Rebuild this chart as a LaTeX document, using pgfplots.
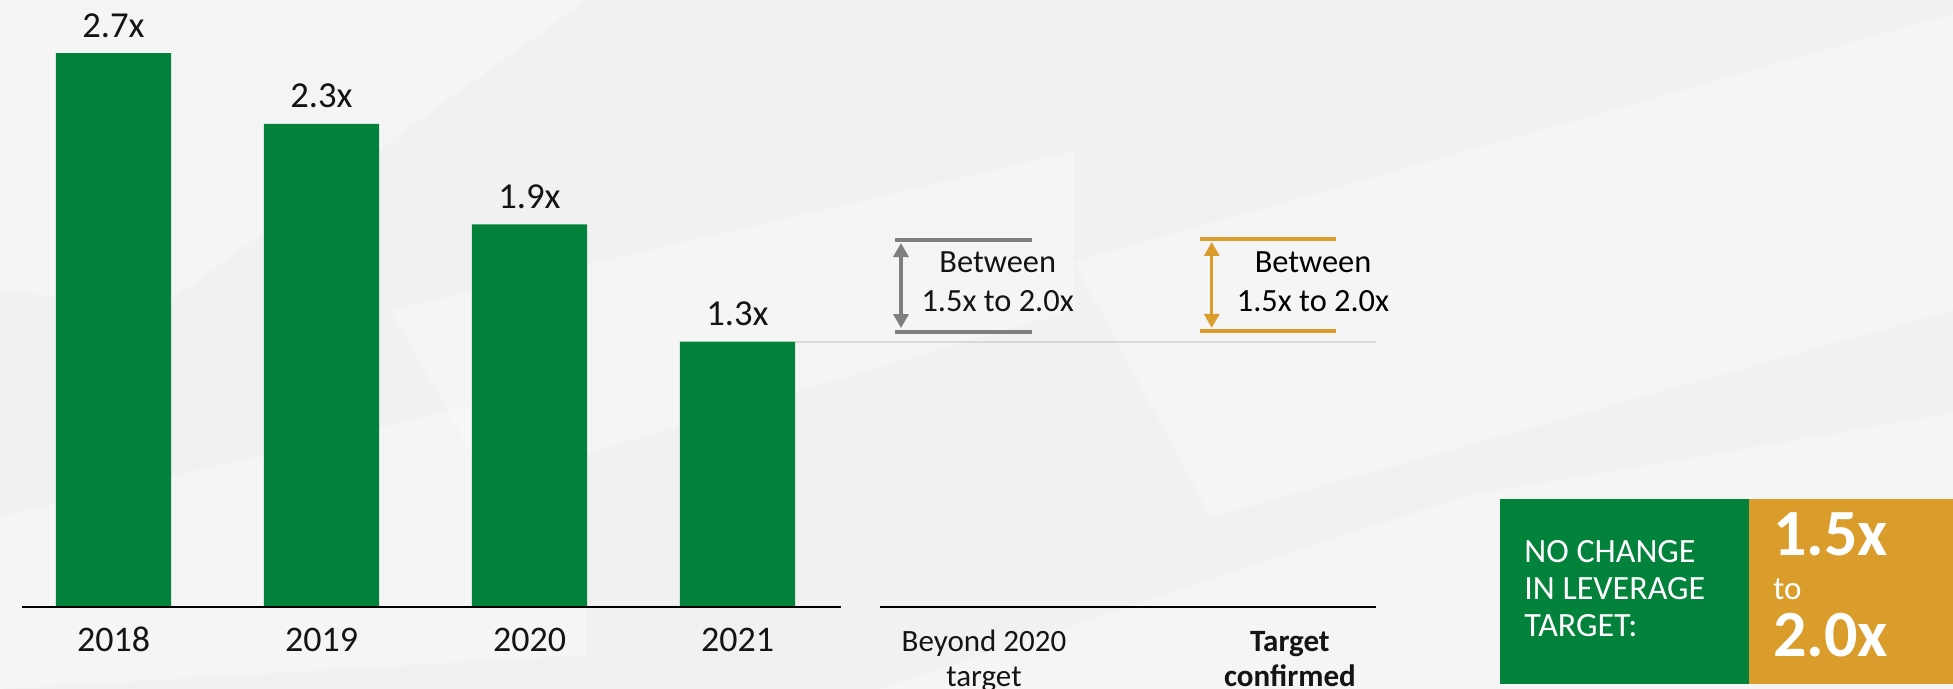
\documentclass[border=0pt]{standalone}
\usepackage{pgfplots}
\pgfplotsset{compat=1.18}
\usepackage{fontspec}
\setmainfont{Carlito}
\usetikzlibrary{arrows.meta}
\definecolor{bargreen}{RGB}{3,130,59}
\definecolor{gold}{RGB}{218,157,43}
\definecolor{bracketgrey}{RGB}{127,127,127}
\definecolor{bgc}{RGB}{241,241,241}
\definecolor{refline}{RGB}{217,217,217}
\definecolor{txt}{RGB}{20,20,20}
\newcommand{\catfont}{\fontsize{15.5bp}{17.3bp}\selectfont}
\newcommand{\twoline}[2]{\vtop{\halign{\hfil##\hfil\cr#1\cr#2\cr}}}
\begin{document}
\begin{tikzpicture}
\begin{axis}[name=ax, set layers, scale only axis, width=976.5bp, height=344.5bp,
  xmin=-0.5457, xmax=8.8438, ymin=-0.4015, ymax=2.9595, clip=false,
  axis line style={draw=none}, major tick length=0pt, ytick=\empty,
  xtick={0,1,2,3,4.185,5.656},
  xticklabels={2018,2019,2020,2021,{\catfont\twoline{Beyond 2020}{target}},{\catfont\bfseries\twoline{Target}{confirmed}}},
  xticklabel style={anchor=base, yshift=18.5bp,
    font=\fontsize{18bp}{20bp}\selectfont, text=txt},
]
% background
\begin{pgfonlayer}{axis background}
\fill[bgc] (rel axis cs:0,0) rectangle (rel axis cs:1,1);
\fill[white, opacity=0.35] (rel axis cs:0,1) -- (rel axis cs:0.30,1) -- (rel axis cs:0.08,0.55) -- (rel axis cs:0,0.58) -- cycle;
\fill[white, opacity=0.3] (rel axis cs:0.20,0.55) -- (rel axis cs:0.55,0.78) -- (rel axis cs:0.55,0.55) -- (rel axis cs:0.25,0.30) -- cycle;
\fill[white, opacity=0.35] (rel axis cs:0.55,0.62) -- (rel axis cs:1,0.98) -- (rel axis cs:1,0.55) -- (rel axis cs:0.62,0.25) -- cycle;
\fill[white, opacity=0.3] (rel axis cs:0,0.25) -- (rel axis cs:0.30,0.45) -- (rel axis cs:0.30,0.05) -- (rel axis cs:0,0) -- cycle;
\fill[white, opacity=0.35] (rel axis cs:0.45,0) -- (rel axis cs:0.75,0.28) -- (rel axis cs:1,0.40) -- (rel axis cs:1,0) -- cycle;
\end{pgfonlayer}
% bars
\addplot[ybar, bar width=0.553, fill=bargreen, draw=none,
  point meta=explicit symbolic, nodes near coords,
  every node near coord/.append style={anchor=base, yshift=8bp,
    font=\fontsize{18.3bp}{20bp}\selectfont, text=txt}]
  coordinates {(0,2.70) [2.7x] (1,2.355) [2.3x] (2,1.865) [1.9x] (3,1.293) [1.3x]};
% baselines and reference line
\addplot[black, line width=1bp] coordinates {(-0.44,0) (3.498,0)};
\addplot[black, line width=1bp] coordinates {(3.685,0) (6.070,0)};
\addplot[refline, line width=1bp] coordinates {(3.276,1.293) (6.070,1.293)};
% grey bracket
\draw[bracketgrey, line width=2bp] (axis cs:3.757,1.789) -- (axis cs:4.414,1.789);
\draw[bracketgrey, line width=2bp] (axis cs:3.757,1.341) -- (axis cs:4.414,1.341);
\draw[bracketgrey, line width=1.6bp, {Triangle[width=7.5bp,length=7bp]}-{Triangle[width=7.5bp,length=7bp]}] (axis cs:3.786,1.774) -- (axis cs:3.786,1.359);
\node[anchor=base, inner sep=0pt, font=\fontsize{16.2bp}{19bp}\selectfont, text=txt] at (axis cs:4.251,1.628) {Between};
\node[anchor=base, inner sep=0pt, font=\fontsize{16.2bp}{19bp}\selectfont, text=txt] at (axis cs:4.251,1.439) {1.5x to 2.0x};
% gold bracket
\draw[gold, line width=2bp] (axis cs:5.224,1.794) -- (axis cs:5.877,1.794);
\draw[gold, line width=2bp] (axis cs:5.224,1.345) -- (axis cs:5.877,1.345);
\draw[gold, line width=1.6bp, {Triangle[width=7.5bp,length=7bp]}-{Triangle[width=7.5bp,length=7bp]}] (axis cs:5.280,1.779) -- (axis cs:5.280,1.360);
\node[anchor=base, inner sep=0pt, font=\fontsize{16.2bp}{19bp}\selectfont, text=black] at (axis cs:5.767,1.628) {Between};
\node[anchor=base, inner sep=0pt, font=\fontsize{16.2bp}{19bp}\selectfont, text=black] at (axis cs:5.767,1.439) {1.5x to 2.0x};
% summary box
\fill[bargreen] (axis cs:6.666,-0.377) rectangle (axis cs:7.863,0.5254);
\fill[gold] (axis cs:7.863,-0.377) rectangle (axis cs:8.8438,0.5254);
\node[anchor=base west, inner sep=0pt, font=\fontsize{17bp}{20bp}\selectfont, text=white] at (axis cs:6.781,0.2132) {NO CHANGE};
\node[anchor=base west, inner sep=0pt, font=\fontsize{17bp}{20bp}\selectfont, text=white] at (axis cs:6.781,0.0327) {IN LEVERAGE};
\node[anchor=base west, inner sep=0pt, font=\fontsize{17bp}{20bp}\selectfont, text=white] at (axis cs:6.781,-0.1478) {TARGET:};
\node[anchor=base west, inner sep=0pt, font=\fontsize{33bp}{36bp}\selectfont\bfseries, text=white] at (axis cs:7.978,0.2473) {1.5x};
\node[anchor=base west, inner sep=0pt, font=\fontsize{16.5bp}{20bp}\selectfont, text=white] at (axis cs:7.978,0.0327) {to};
\node[anchor=base west, inner sep=0pt, font=\fontsize{33bp}{36bp}\selectfont\bfseries, text=white] at (axis cs:7.978,-0.2439) {2.0x};
\end{axis}
\pgfresetboundingbox
\path[use as bounding box] (ax.south west) rectangle (ax.north east);
\end{tikzpicture}
\end{document}
